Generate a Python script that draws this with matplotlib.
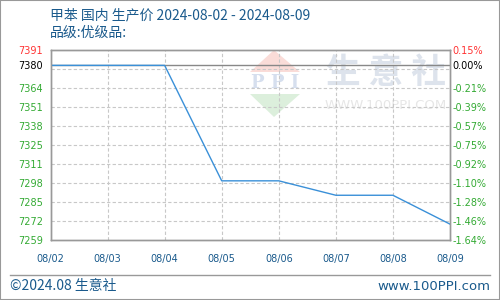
import numpy as np
import matplotlib
matplotlib.use('Agg')
from matplotlib import pyplot as plt
from matplotlib.patches import Polygon, Rectangle

plt.rcParams['font.family'] = ['Noto Sans CJK SC', 'DejaVu Sans']

# ----------- data -----------------------------------------------------------------
dates = ['08/02', '08/03', '08/04', '08/05', '08/06', '08/07', '08/08', '08/09']
prices = [7380, 7380, 7380, 7300, 7300, 7290, 7290, 7270]
base = 7380
y_top = 7391
y_bottom = 7259
left_labels = ['7391', '7380', '7364', '7351', '7338', '7325',
               '7311', '7298', '7285', '7272', '7259']
right_labels = ['0.15%', '0.00%', '-0.21%', '-0.39%', '-0.57%', '-0.75%',
                '-0.92%', '-1.10%', '-1.28%', '-1.46%', '-1.64%']

title = '甲苯 国内 生产价 2024-08-02 - 2024-08-09'
subtitle = '品级:优级品:'

blue_txt = '#1a5a8c'
red = '#ff3333'
green = '#33aa33'
line_c = '#3a90d8'

W, H = 500, 300
fig = plt.figure(figsize=(5, 3), dpi=100)

def fx(px):
    return px / W

def fy(py):
    return 1 - py / H

ax = fig.add_axes([fx(50.5), fy(240), fx(450) - fx(50.5), fy(49.5) - fy(240)])
x = np.arange(len(dates))
ax.set_xlim(0, len(dates) - 1)
ax.set_ylim(y_bottom, y_top)

# grid lines (evenly spaced), base line
grid_vals = np.linspace(y_top, y_bottom, len(left_labels))
for g in grid_vals[1:-1]:
    ax.axhline(g, color='#c8c8c8', lw=0.8, ls=(0, (3, 2)), zorder=0.5)
for xi in x[1:-1]:
    ax.axvline(xi, color='#c8c8c8', lw=0.8, ls=(0, (3, 2)), zorder=0.5)
ax.axhline(base, color='#888888', lw=1.0, zorder=1)

ax.plot(x, prices, color=line_c, lw=1.0, zorder=3)

# label positions: base label replaces the second gridline label
label_pos = list(grid_vals)
label_pos[1] = base
lab_colors = [red, 'black'] + [green] * (len(left_labels) - 2)

ax.set_yticks(label_pos)
ax.set_yticklabels(left_labels, fontsize=7, family='DejaVu Sans')
for t, c in zip(ax.get_yticklabels(), lab_colors):
    t.set_color(c)
ax.set_xticks(x)
ax.set_xticklabels(dates, fontsize=7, color=blue_txt, family='DejaVu Sans')
ax.tick_params(axis='both', length=0)
ax.tick_params(axis='y', pad=23)
for t in ax.get_yticklabels():
    t.set_horizontalalignment('left')
ax.tick_params(axis='x', pad=10)

ax2 = ax.twinx()
ax2.set_ylim(y_bottom, y_top)
ax2.set_yticks(label_pos)
ax2.set_yticklabels(right_labels, fontsize=7, family='DejaVu Sans')
for t, c in zip(ax2.get_yticklabels(), lab_colors):
    t.set_color(c)
ax2.tick_params(axis='y', length=0, pad=2)

for a in (ax, ax2):
    for s in a.spines.values():
        s.set_color('#999999')
        s.set_linewidth(1.0)

# watermark
wm = dict(transform=fig.transFigure, zorder=0.2)
ax.add_patch(Polygon([(fx(250), fy(72)), (fx(300), fy(72)), (fx(274), fy(50))],
                     closed=True, facecolor='#fadcd8', edgecolor='none', **wm))
ax.add_patch(Polygon([(fx(250), fy(94)), (fx(300), fy(94)), (fx(274), fy(117))],
                     closed=True, facecolor='#dcefdc', edgecolor='none', **wm))
ax.text(fx(275), fy(83), 'P P I', fontsize=13, color='#d6dfee', ha='center', va='center',
        family='DejaVu Serif', fontweight='bold', **wm)
ax.text(fx(386), fy(72), '生 意 社', fontsize=25, color='#dde3ec', ha='center', va='center',
        fontweight='bold', **wm)
ax.text(fx(386), fy(106), 'WWW.100PPI.COM', fontsize=9.5, color='#e6e6e6', ha='center',
        va='center', family='DejaVu Sans', **wm)

# titles
fig.text(fx(50), fy(15), title, fontsize=10, color=blue_txt, va='center', ha='left')
fig.text(fx(50), fy(33), subtitle, fontsize=10, color=blue_txt, va='center', ha='left')

# footer
fig.add_artist(plt.Line2D([fx(10), fx(490)], [fy(275), fy(275)], color='#999999', lw=1))
fig.text(fx(10), fy(286), '©2024.08 生意社', fontsize=10, color=blue_txt, va='center', ha='left')
fig.text(fx(490), fy(286), 'www.100PPI.com', fontsize=9.5, color=blue_txt, va='center',
         ha='right', family='DejaVu Sans')

# outer border
fig.add_artist(Rectangle((0, 0), 1, 1, transform=fig.transFigure, fill=False,
                         edgecolor='#999999', lw=1.5))

plt.savefig('out.png', dpi=100)
plt.close()
